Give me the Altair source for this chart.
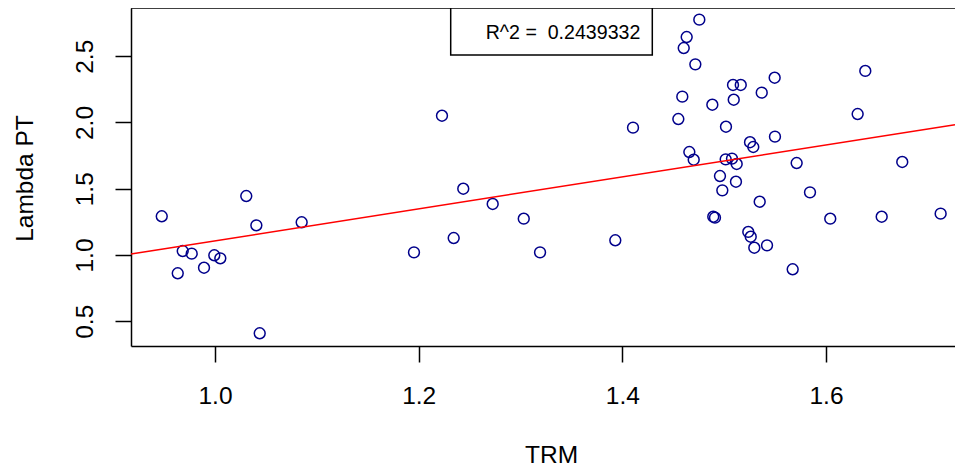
import altair as alt
import pandas as pd

# Data
trm = [0.9477, 1.0307, 1.0406, 1.0851, 0.9683, 0.9771, 0.9993, 1.0052, 0.9892, 0.9634,
       1.0439, 1.1954, 1.2344, 1.2438, 1.2229, 1.2727, 1.3032, 1.3192, 1.3931, 1.4105,
       1.4756, 1.4632, 1.4603, 1.4717, 1.4589, 1.4550, 1.4658, 1.4701, 1.6386, 1.5087,
       1.5163, 1.5496, 1.5369, 1.5094, 1.4884, 1.6311, 1.5018, 1.5254, 1.5286, 1.5499,
       1.5015, 1.5077, 1.5123, 1.5712, 1.6749, 1.4959, 1.5116, 1.4982, 1.5349, 1.5843,
       1.4893, 1.4910, 1.6042, 1.6547, 1.7126, 1.5237, 1.5261, 1.5296, 1.5421, 1.5673]
lambda_pt = [1.292, 1.445, 1.224, 1.247, 1.030, 1.010, 0.998, 0.975, 0.904, 0.862,
             0.409, 1.020, 1.128, 1.500, 2.051, 1.385, 1.274, 1.020, 1.111, 1.961,
             2.776, 2.645, 2.562, 2.439, 2.195, 2.026, 1.777, 1.719, 2.389, 2.283,
             2.283, 2.338, 2.225, 2.172, 2.134, 2.064, 1.968, 1.851, 1.815, 1.893,
             1.722, 1.727, 1.687, 1.694, 1.702, 1.596, 1.553, 1.488, 1.402, 1.473,
             1.289, 1.282, 1.274, 1.289, 1.312, 1.174, 1.138, 1.055, 1.073, 0.892]
x_ticks = [1.0, 1.2, 1.4, 1.6]
y_ticks = [0.5, 1.0, 1.5, 2.0, 2.5]
r2_label = "R^2 =\u00a0\u00a00.2439332"

x_domain = [0.9175, 1.7267]
y_domain = [0.3132, 2.864]

df = pd.DataFrame({"TRM": trm, "Lambda": lambda_pt})
one = pd.DataFrame({"k": [0]})

W, H = 824, 338
FONT = "Liberation Sans"
FS = 24.5

xscale = alt.Scale(domain=x_domain, nice=False, zero=False)
yscale = alt.Scale(domain=y_domain, nice=False, zero=False)

xaxis = alt.Axis(
    title="TRM", values=x_ticks, format=".1f", grid=False,
    tickSize=16, tickWidth=1.5, tickColor="black",
    domainColor="black", domainWidth=1.5,
    labelFont=FONT, labelFontSize=FS, labelColor="black",
    labelBaseline="alphabetic", labelPadding=41, labelFlush=False, labelOverlap=False,
    titleFont=FONT, titleFontSize=FS, titleFontWeight="normal", titleColor="black",
    titleX=420, titleY=116, titleBaseline="alphabetic", titleAlign="center",
)
yaxis = alt.Axis(
    title="Lambda PT", values=y_ticks, format=".1f", grid=False,
    tickSize=16, tickWidth=1.5, tickColor="black",
    domainColor="black", domainWidth=1.5,
    labelFont=FONT, labelFontSize=FS, labelColor="black",
    labelAngle=270, labelAlign="center", labelBaseline="alphabetic",
    labelPadding=23, labelFlush=False, labelOverlap=False,
    titleFont=FONT, titleFontSize=FS, titleFontWeight="normal", titleColor="black",
    titleAngle=270, titleX=-99, titleY=170, titleBaseline="alphabetic", titleAlign="center",
)

points = alt.Chart(df).mark_point(
    shape="circle", filled=False, color="#00008B", size=118, strokeWidth=1.5, opacity=1
).encode(
    x=alt.X("TRM:Q", scale=xscale, axis=xaxis),
    y=alt.Y("Lambda:Q", scale=yscale, axis=yaxis),
)

reg = alt.Chart(df).transform_regression(
    "TRM", "Lambda", extent=x_domain
).mark_line(color="#FF0000", strokeWidth=1.5).encode(
    x=alt.X("TRM:Q", scale=xscale),
    y=alt.Y("Lambda:Q", scale=yscale),
)

top_rule = alt.Chart(one).mark_rule(color="black", strokeWidth=1.5).encode(
    x=alt.value(0), x2=alt.value(W), y=alt.value(0)
)

legend_box = alt.Chart(one).mark_rect(fill="white", stroke="black", strokeWidth=1.5).encode(
    x=alt.value(319.7), x2=alt.value(521.3), y=alt.value(0), y2=alt.value(47)
)

legend_text = alt.Chart(one).mark_text(
    align="left", baseline="alphabetic", font=FONT, fontSize=19.6, color="black"
).encode(
    x=alt.value(354.7), y=alt.value(31.3), text=alt.value(r2_label)
)

chart = alt.layer(points, reg, top_rule, legend_box, legend_text).properties(
    width=W, height=H,
    autosize=alt.AutoSizeParams(type="none"),
    padding={"left": 123, "top": 0, "right": 0, "bottom": 120},
    background="white",
).configure_view(stroke=None)

chart.save("out.html", embed_options={"renderer": "svg", "actions": False})
